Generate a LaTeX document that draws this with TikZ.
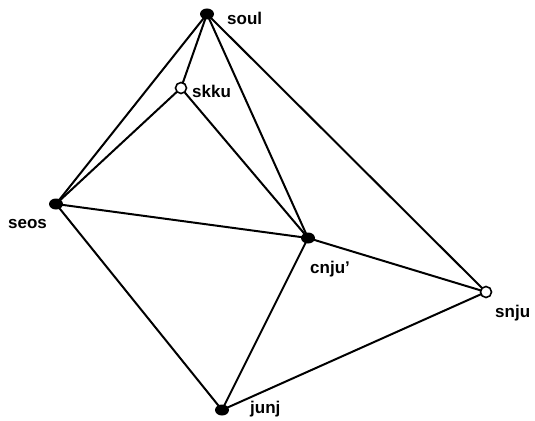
\documentclass[tikz,border=0pt]{standalone}
\usepackage{fontspec}
\setmainfont{Liberation Sans}
\usetikzlibrary{shapes.geometric}
\begin{document}
\begin{tikzpicture}[x=1pt,y=-1pt,
  edge/.style={line width=2pt},
  full/.style={ellipse,fill=black,minimum width=14pt,minimum height=11pt,inner sep=0pt},
  hollow/.style={circle,draw=black,fill=white,line width=1.6pt,minimum size=11pt,inner sep=0pt},
  lab/.style={anchor=base west,inner sep=0pt,font=\fontsize{17}{19}\selectfont\bfseries}]
\useasboundingbox (0,0) rectangle (535,420);
\coordinate (soul) at (207,14);
\coordinate (skku) at (181,88);
\coordinate (seos) at (56,204);
\coordinate (cnju) at (308,238);
\coordinate (snju) at (486,292);
\coordinate (junj) at (222,410);
\draw[edge] (soul) -- (seos);
\draw[edge] (soul) -- (skku);
\draw[edge] (soul) -- (cnju);
\draw[edge] (soul) -- (snju);
\draw[edge] (skku) -- (seos);
\draw[edge] (skku) -- (cnju);
\draw[edge] (seos) -- (cnju);
\draw[edge] (seos) -- (junj);
\draw[edge] (cnju) -- (junj);
\draw[edge] (cnju) -- (snju);
\draw[edge] (junj) -- (snju);
\node[full] (nsoul) at (soul) {};
\node[hollow] (nskku) at (skku) {};
\node[full] (nseos) at (seos) {};
\node[full] (ncnju) at (cnju) {};
\node[hollow] (nsnju) at (snju) {};
\node[full] (njunj) at (junj) {};
\node[lab] (tsoul) at (227,25) {soul};
\node[lab] (tskku) at (192,97) {skku};
\node[lab] (tseos) at (8,228) {seos};
\node[lab] (tcnju) at (310,273) {cnju'};
\node[lab] (tsnju) at (495,317) {snju};
\node[lab] (tjunj) at (250,413) {junj};
\end{tikzpicture}
\end{document}
